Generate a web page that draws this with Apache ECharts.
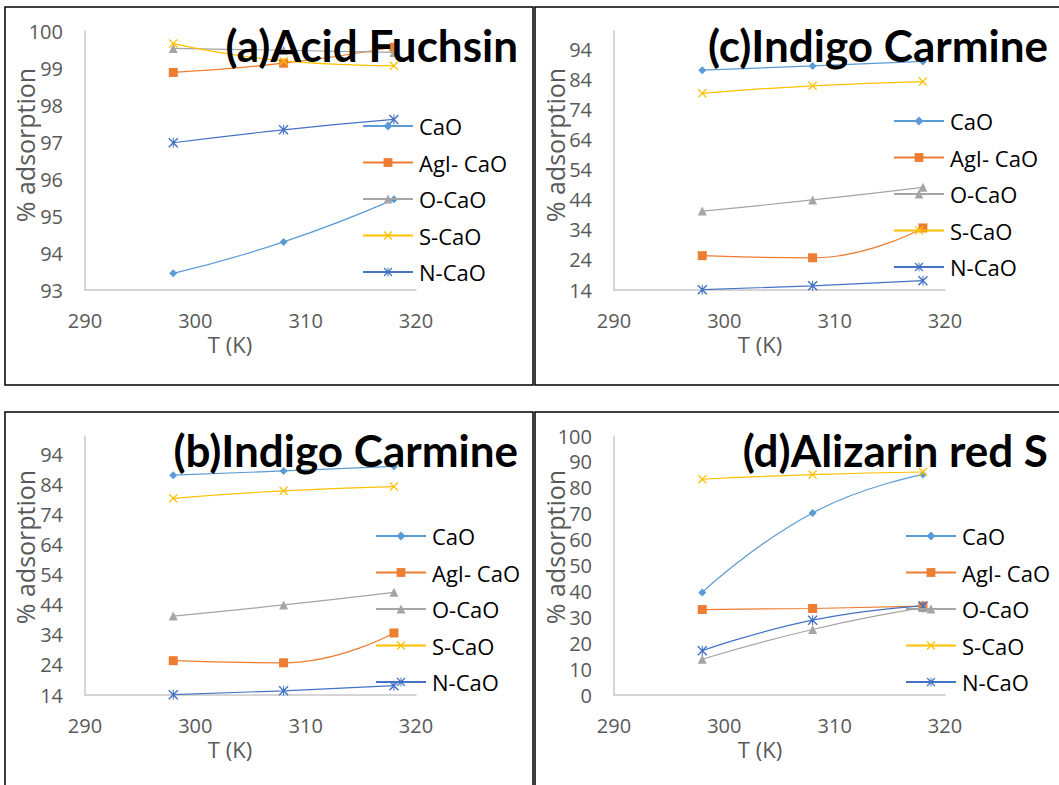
<!DOCTYPE html>
<html lang="en" style="height: 100%">
<head>
  <meta charset="utf-8">
</head>
<body style="height: 100%; margin: 0; background: #fff">
  <div id="container" style="width: 1059px; height: 785px"></div>
  <script type="text/javascript" src="https://fastly.jsdelivr.net/npm/echarts@6/dist/echarts.min.js"></script>
  <script type="text/javascript">
    // temperatures (K) and % adsorption
    var temps = [298, 308, 318];
    var seriesNames = ['CaO', 'AgI- CaO', 'O-CaO', 'S-CaO', 'N-CaO'];

    var acidFuchsin = {
      'CaO': [93.45, 94.3, 95.45],
      'AgI- CaO': [98.88, 99.13, 99.56],
      'O-CaO': [99.53, 99.48, 99.42],
      'S-CaO': [99.66, 99.19, 99.06],
      'N-CaO': [96.98, 97.33, 97.61]
    };
    var indigoCarmine = {
      'CaO': [87.0, 88.4, 89.9],
      'AgI- CaO': [25.4, 24.7, 34.6],
      'O-CaO': [40.2, 43.9, 48.1],
      'S-CaO': [79.3, 81.8, 83.2],
      'N-CaO': [14.1, 15.4, 17.1]
    };
    var alizarinRed = {
      'CaO': [39.6, 70.3, 85.1],
      'AgI- CaO': [33.0, 33.4, 34.3],
      'O-CaO': [13.8, 25.3, 33.7],
      'S-CaO': [83.3, 85.1, 86.1],
      'N-CaO': [17.1, 28.9, 34.4]
    };

    var panelTitles = ['(a)Acid Fuchsin', '(c)Indigo Carmine', '(b)Indigo Carmine', '(d)Alizarin red S'];
    var panelData = [acidFuchsin, indigoCarmine, indigoCarmine, alizarinRed];
    var yMin = [93, 14, 14, 0];
    var yMax = [100, 100, 100, 100];
    var yStep = [1, 10, 10, 10];

    var colors = ['#5B9BD5', '#ED7D31', '#A5A5A5', '#FFC000', '#4472C4'];
    var crossPath = 'path://M0,1 L1,0 L5,4 L9,0 L10,1 L6,5 L10,9 L9,10 L5,6 L1,10 L0,9 L4,5 Z';
    var starPath = crossPath + ' M4.5,0 L5.5,0 L5.5,10 L4.5,10 Z';
    var symbols = ['diamond', 'rect', 'triangle', crossPath, starPath];
    var symbolSizes = [8, 9, 9, 9, 10];

    var panels = [
      { left: 85, top: 31, legendLeft: 362, legendTop: 115, ox: 0, oy: 0, titleY: 145 },
      { left: 614, top: 31, legendLeft: 893, legendTop: 110, ox: 530, oy: 0, titleY: 145 },
      { left: 85, top: 436, legendLeft: 375, legendTop: 525, ox: 0, oy: 405, titleY: 142 },
      { left: 614, top: 436, legendLeft: 905, legendTop: 525, ox: 530, oy: 405, titleY: 142 }
    ];

    var font = '"Open Sans", sans-serif';
    var titleFont = 'Lato, "Open Sans", sans-serif';
    var grids = [], xAxes = [], yAxes = [], series = [], legends = [], graphics = [];

    panels.forEach(function (p, k) {
      grids.push({ left: p.left, top: p.top, width: 331, height: 259 });
      xAxes.push({
        type: 'value', gridIndex: k, min: 290, max: 320, interval: 10,
        axisLine: { show: true, lineStyle: { color: '#c8c8c8', width: 1.5 } },
        axisTick: { show: false },
        splitLine: { show: false },
        axisLabel: { color: '#595959', fontSize: 20, fontFamily: font, margin: 20 }
      });
      yAxes.push({
        type: 'value', gridIndex: k, min: yMin[k], max: yMax[k], interval: yStep[k],
        axisLine: { show: true, lineStyle: { color: '#c8c8c8', width: 1.5 } },
        axisTick: { show: false },
        splitLine: { show: false },
        axisLabel: {
          color: '#595959', fontSize: 20, fontFamily: font, margin: 22,
          showMaxLabel: k === 0 || k === 3
        }
      });
      seriesNames.forEach(function (name, j) {
        series.push({
          name: name,
          type: 'line',
          xAxisIndex: k,
          yAxisIndex: k,
          smooth: 0.5,
          symbol: symbols[j],
          symbolSize: symbolSizes[j],
          showAllSymbol: true,
          lineStyle: { width: 1.2, color: colors[j] },
          itemStyle: { color: colors[j] },
          data: temps.map(function (t, i) { return [t, panelData[k][name][i]]; })
        });
      });
      legends.push({
        orient: 'vertical',
        left: p.legendLeft,
        top: p.legendTop,
        padding: 0,
        itemWidth: 50,
        itemHeight: 11,
        itemGap: 14.5,
        data: seriesNames,
        textStyle: { color: '#000', fontSize: 22, fontFamily: font, lineHeight: 22, padding: [0, 0, 0, 1] }
      });
      // panel frame
      graphics.push({
        type: 'rect', silent: true,
        shape: { x: 5 + p.ox, y: 7 + p.oy, width: 528, height: 378 + (k > 1 ? 10 : 0) },
        style: { fill: 'none', stroke: '#000', lineWidth: 1.5 }
      });
      // y axis title
      graphics.push({
        type: 'text', x: 25 + p.ox, y: p.titleY + p.oy, rotation: Math.PI / 2,
        style: { text: '% adsorption', fill: '#595959', font: '25px ' + font, align: 'center', verticalAlign: 'middle' }
      });
      // x axis title
      graphics.push({
        type: 'text', x: 230 + p.ox, y: 344 + p.oy,
        style: { text: 'T (K)', fill: '#595959', font: '22px ' + font, align: 'center', verticalAlign: 'middle' }
      });
      // panel title
      graphics.push({
        type: 'text', x: 518 + p.ox, y: 45 + p.oy, z: 100,
        style: { text: panelTitles[k], fill: '#000', font: 'bold 44px ' + titleFont, align: 'right', verticalAlign: 'middle' }
      });
    });

    var dom = document.getElementById('container');
    var myChart = echarts.init(dom, null, { renderer: 'svg' });

    var option = {
      animation: false,
      backgroundColor: '#fff',
      grid: grids,
      xAxis: xAxes,
      yAxis: yAxes,
      legend: legends,
      series: series,
      graphic: graphics
    };

    myChart.setOption(option);
    window.addEventListener('resize', myChart.resize);
  </script>
</body>
</html>
